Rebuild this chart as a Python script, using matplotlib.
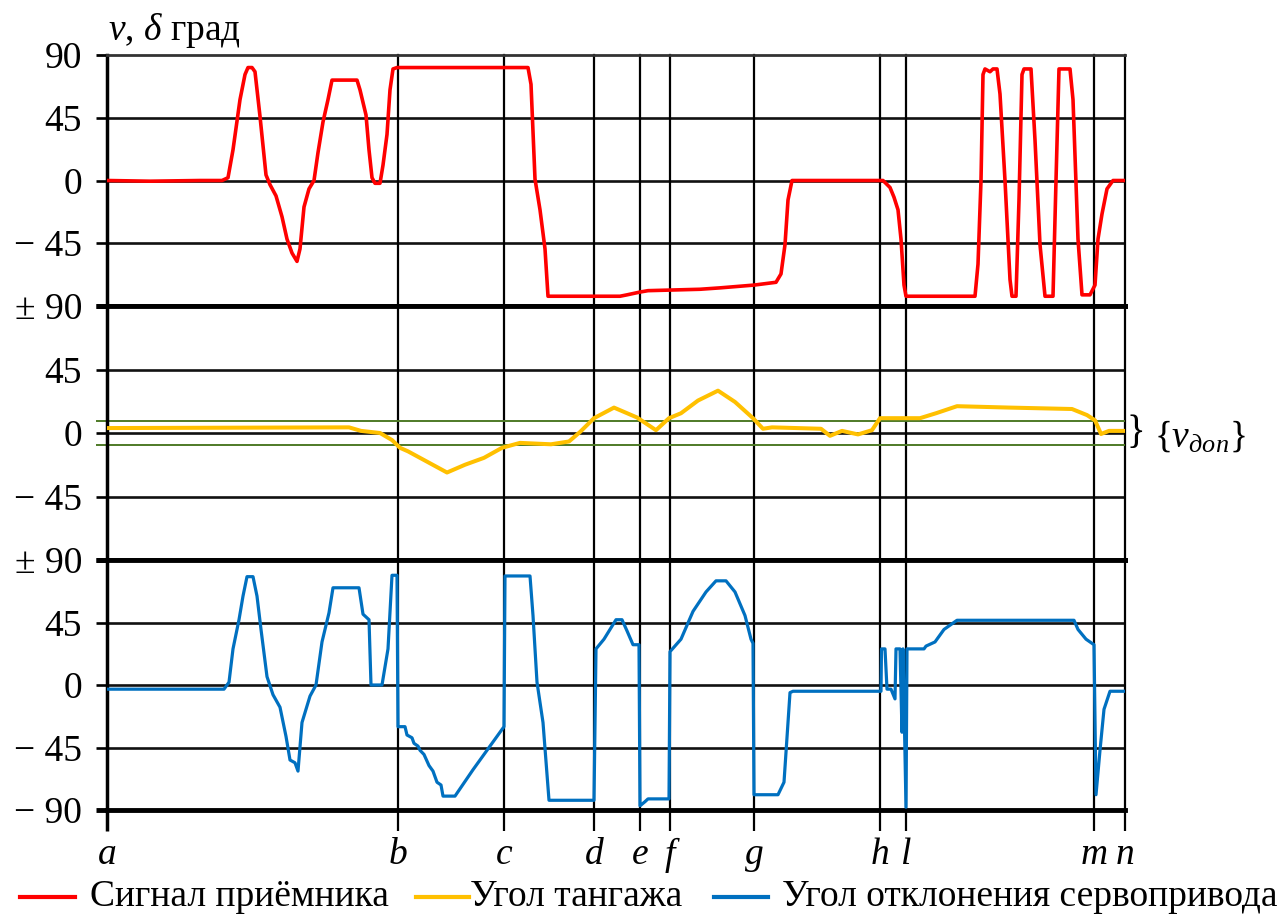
import matplotlib
matplotlib.use('Agg')
import matplotlib.pyplot as plt
from matplotlib.lines import Line2D

plt.rcParams['font.family'] = ['Liberation Serif', 'DejaVu Serif']
plt.rcParams['mathtext.fontset'] = 'custom'
plt.rcParams['mathtext.rm'] = 'Liberation Serif'
plt.rcParams['mathtext.it'] = 'Liberation Serif:italic'
plt.rcParams['mathtext.bf'] = 'Liberation Serif:bold'

# ---------------- data (time axis in arbitrary units, a = 0 ... n = 1018) ----------------
event_names = ['a', 'b', 'c', 'd', 'e', 'f', 'g', 'h', 'l', 'm', 'n']
event_t = [0, 291, 397, 487, 533, 563, 647, 773, 799, 987, 1018]

# receiver signal (red), degrees
t_red = [0, 43, 93, 115, 121, 126, 133, 138, 141, 145, 148, 153, 159, 163, 169, 175, 180, 185, 190,
         193, 197, 202, 207, 211, 216, 221, 225, 250, 253, 256, 259, 262, 265, 268, 273, 276, 280,
         283, 286, 290, 421, 424, 428, 433, 438, 441, 513, 520, 533, 541, 593, 613, 647, 669, 674,
         678, 681, 685, 776, 783, 787, 791, 794, 797, 799, 868, 871, 874, 876, 878, 883, 886, 890,
         893, 898, 903, 905, 909, 912, 915, 917, 924, 928, 933, 938, 946, 949, 952, 963, 966, 971,
         975, 983, 988, 991, 995, 1000, 1006, 1018]
v_red = [0, -0.5, 0, 0, 2, 22, 58, 76, 81, 81, 78, 46, 4, -3, -11, -26, -42, -52, -58,
         -49, -19, -6, 0, 20, 42, 58, 72, 72, 65, 56, 47, 22, 2, -2, -2, 11, 33,
         65, 80, 81, 81, 69, 1, -21, -49, -83, -83, -82, -80, -79, -78, -77, -75, -73, -67,
         -46, -14, 0, 0, -5, -12, -21, -42, -75, -83, -83, -60, 0, 76, 80, 78, 80, 80,
         62, 0, -71, -83, -83, -14, 76, 80, 80, 29, -46, -83, -83, 0, 80, 80, 58, -42,
         -82, -82, -75, -42, -24, -6, 0, 0]

# pitch angle (yellow), degrees
t_pitch = [0, 242, 254, 273, 285, 293, 301, 340, 358, 377, 395, 413, 444, 462, 473, 487, 507,
           530, 549, 562, 574, 591, 611, 628, 646, 656, 665, 714, 723, 735, 751, 765, 773, 813,
           829, 850, 903, 965, 980, 988, 994, 1002, 1018]
v_pitch = [3.5, 4, 1.5, 0, -5, -10.5, -13, -28, -22.5, -17.6, -10.5, -7, -8, -6, 0.7, 10.5, 18,
           11, 2, 10.5, 14, 23, 30, 22, 10.5, 3, 4, 3, -2, 1.5, -1, 2, 10.5, 10.5,
           14, 19, 18, 17, 12.7, 9, -0.7, 1.5, 1.5]
band_limit = 8.5   # admissible pitch band {v_доп}

# servo deflection angle (blue), degrees
t_servo = [0, 117, 122, 126, 132, 136, 140, 146, 150, 154, 160, 166, 173, 179, 183, 188, 191,
           195, 203, 209, 215, 222, 226, 252, 256, 262, 264, 275, 281, 285, 290, 291, 298, 300,
           305, 307, 311, 313, 317, 322, 326, 330, 334, 336, 348, 366, 383, 397, 398, 423, 426,
           430, 436, 442, 487, 489, 497, 509, 515, 520, 526, 532, 533, 538, 541, 562, 563, 574,
           586, 599, 609, 619, 628, 638, 644, 646, 647, 671, 677, 683, 686, 774, 774.5, 778,
           780, 784, 788, 789, 793, 795, 796, 799, 800, 817, 819, 828, 837, 850, 967, 971, 979,
           987, 989, 993, 997, 1003, 1018]
v_servo = [-3, -3, 2, 26, 47, 64, 78, 78, 64, 40, 6, -7, -16, -37, -54, -56, -62,
           -27, -8, 0, 31, 52, 70, 70, 51, 47, 0, 0, 26, 79, 79, -30, -30, -36,
           -38, -42, -44, -47, -50, -58, -62, -70, -72, -80, -80, -61, -44, -30, 78.5, 78.5, 50,
           2, -27, -83, -83, 26, 33, 47, 47, 39, 29, 29, -87, -84, -82, -82, 24, 33,
           53, 67, 75, 75, 67, 50, 33, 30, -79, -79, -70, -5.5, -4.5, -4.5, 26, 26,
           -3, -3, -10, 26, 26, -34, 26, -88, 26, 26, 28, 31, 40, 46.6, 46.6, 40, 33,
           29, -79, -47, -17.5, -4.5, -4.5]

# tick labels
top_ticks = [90, 45, 0, -45, -90]
top_labels = ['90', '45', '0', '\u2212 45', '\u00b1 90']
mid_ticks = [90, 45, 0, -45, -90]
mid_labels = ['', '45', '0', '\u2212 45', '\u00b1 90']
bot_ticks = [90, 45, 0, -45, -90]
bot_labels = ['', '45', '0', '\u2212 45', '\u2212 90']

legend_labels = ['Сигнал приёмника', 'Угол тангажа', 'Угол отклонения сервопривода']

# ---------------- styling ----------------
RED = '#FF0000'
YELLOW = '#FFC000'
BLUE = '#0070C0'
GREEN = '#4E7A27'
FS = 27

W, H = 1285, 919
fig = plt.figure(figsize=(W / 100, H / 100), dpi=100)
left = 107 / W
width = (1125 - 107) / W
tops = [55, 306, 560]
bots = [306, 560, 810]

axes = []
for tp, bt in zip(tops, bots):
    ax = fig.add_axes([left, 1 - bt / H, width, (bt - tp) / H])
    axes.append(ax)

series = [(t_red, v_red, RED, 2.6), (t_pitch, v_pitch, YELLOW, 2.9), (t_servo, v_servo, BLUE, 2.3)]
ticksets = [(top_ticks, top_labels), (mid_ticks, mid_labels), (bot_ticks, bot_labels)]

for i, ax in enumerate(axes):
    ax.set_xlim(event_t[0], event_t[-1])
    ax.set_ylim(-90, 90)
    t, v, c, lw = series[i]
    ax.plot(t, v, color=c, lw=lw, zorder=4, solid_joinstyle='round')
    for yv in (45, 0, -45):
        ax.axhline(yv, color='#111111', lw=1.9, zorder=1)
    for xv in event_t[1:]:
        ax.axvline(xv, color='black', lw=1.6, zorder=2, clip_on=False)
    for s in ax.spines.values():
        s.set_color('black')
    ax.spines['right'].set_visible(False)
    ax.spines['left'].set_linewidth(2.5)
    ax.spines['bottom'].set_linewidth(3.5)
    if i == 0:
        ax.spines['top'].set_linewidth(2.0)
        ax.spines['top'].set_color('#333333')
    else:
        ax.spines['top'].set_linewidth(3.5)
    tk, lb = ticksets[i]
    ax.set_yticks(tk)
    ax.set_yticklabels(lb, fontsize=FS)
    ax.tick_params(axis='y', direction='out', length=8, width=1.9, pad=10, colors='black')
    for tick, val in zip(ax.yaxis.get_major_ticks(), tk):
        if abs(val) == 90:
            tick.tick1line.set_markeredgewidth(3.5 if not (i == 0 and val == 90) else 2.0)
    if i < 2:
        ax.set_xticks([])
    else:
        ax.set_xticks(event_t)
        ax.set_xticklabels(event_names, fontsize=FS, style='italic')
        ax.tick_params(axis='x', direction='out', length=15, width=1.6, pad=5)
        ax.xaxis.get_major_ticks()[0].tick1line.set_markeredgewidth(2.5)

# admissible pitch band on the middle panel
axm = axes[1]
for yv in (band_limit, -band_limit):
    axm.axhline(yv, color=GREEN, lw=1.4, zorder=2)
axm.set_yticks([band_limit, -band_limit], minor=True)
axm.tick_params(axis='y', which='minor', length=8, width=1.4, color=GREEN, labelleft=False)

fig.text(1126 / W, 1 - 433 / H, '}', fontsize=28, ha='left', va='center')
fig.text(1154 / W, 1 - 437 / H, r'$\{v_{\mathit{доп}}\}$', fontsize=FS, ha='left', va='center')

# axis title
fig.text(108 / W, 1 - 30 / H, r'$v$, $\delta$ град', fontsize=FS, ha='left', va='center')

# legend
leg_y = 1 - 897 / H
leg_items = [((20, 75), 90, RED), ((416, 469), 470, YELLOW), ((714, 768), 782, BLUE)]
for ((x0, x1), xt, c), lab in zip(leg_items, legend_labels):
    fig.add_artist(Line2D([x0 / W, x1 / W], [leg_y, leg_y], color=c, lw=3, transform=fig.transFigure))
    fig.text(xt / W, leg_y, lab, fontsize=FS, ha='left', va='center')

fig.savefig('out.png', dpi=100)
